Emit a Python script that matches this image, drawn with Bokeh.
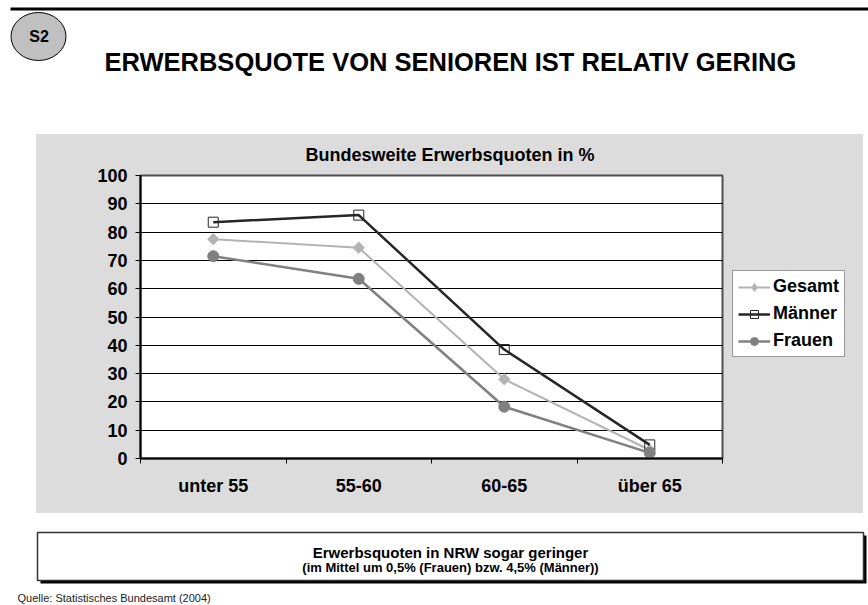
import math
from bokeh.plotting import figure
from bokeh.models import Range1d, FixedTicker, CustomJSTickFormatter, Legend, LegendItem, Spacer
from bokeh.layouts import column, row
from bokeh.core.properties import value
from bokeh.embed import file_html
from bokeh.resources import INLINE

# ---------------- data ----------------
categories = ["unter 55", "55-60", "60-65", "über 65"]
gesamt = [77.5, 74.5, 28.0, 3.0]
maenner = [83.5, 86.0, 38.5, 4.8]
frauen = [71.5, 63.5, 18.3, 2.0]
y_ticks = list(range(0, 101, 10))
series_names = ["Gesamt", "Männer", "Frauen"]

main_title = "ERWERBSQUOTE VON SENIOREN IST RELATIV GERING"
badge = "S2"
chart_title = "Bundesweite Erwerbsquoten in %"
note_1 = "Erwerbsquoten in NRW sogar geringer"
note_2 = "(im Mittel um 0,5% (Frauen) bzw. 4,5% (Männer))"
source = "Quelle: Statistisches Bundesamt (2004)"

FONT = "Liberation Sans"
GRAY_BG = "#dcdcdc"
W = 868

# series styles
STYLES = {
    "Gesamt": dict(line=dict(line_color="#b3b3b3", line_width=2),
                   marker=dict(marker="square", angle=math.pi / 4, size=8,
                               fill_color="#b3b3b3", line_color="#b3b3b3")),
    "Männer": dict(line=dict(line_color="#262626", line_width=2.5),
                   marker=dict(marker="square", size=10, fill_alpha=0,
                               line_color="#262626", line_width=1)),
    "Frauen": dict(line=dict(line_color="#808080", line_width=2.5),
                   marker=dict(marker="circle", size=11, fill_color="#808080",
                               line_color="#808080")),
}
# legend swatches (legend ignores marker angle, so use a diamond there)
LEGEND_MARKER = {"Gesamt": dict(marker="diamond", size=12, angle=0)}


def draw_series(fig, x, y, name, legend_only=False):
    st = STYLES[name]
    mk = dict(st["marker"])
    if legend_only:
        mk.update(LEGEND_MARKER.get(name, {}))
    lr = fig.line(x, y, **st["line"])
    sr = fig.scatter(x, y, **mk)
    return lr, sr


def blank_fig(width, height, bg="white"):
    f = figure(width=width, height=height, x_range=Range1d(0, width),
               y_range=Range1d(height, 0),
               output_backend="svg", toolbar_location=None, min_border=0,
               x_axis_location=None, y_axis_location=None, outline_line_color=None,
               background_fill_color=bg, border_fill_color=bg)
    f.grid.visible = False
    return f


def txt(fig, x, y, s, size, style="bold", align="center", color="black"):
    fig.text(x=[x], y=[y], text=[s], text_font=value(FONT), text_font_style=style,
             text_font_size=size, text_align=align, text_baseline="alphabetic",
             text_color=color)


# ---------------- header (page coordinates) ----------------
header = blank_fig(W, 134)
header.segment(x0=[10], y0=[8.5], x1=[W], y1=[8.5], line_color="black", line_width=3)
header.ellipse(x=[38], y=[36], width=55, height=48, fill_color="#c0c0c0",
               line_color="black", line_width=1)
txt(header, 38.5, 36, badge, "16px")
txt(header, 104, 61, main_title, "25.5px", align="left")

# ---------------- chart title strip (gray) ----------------
strip = blank_fig(827, 33, bg=GRAY_BG)
txt(strip, 413.5, 20, chart_title, "18px")

# ---------------- chart ----------------
xs = [i + 0.5 for i in range(len(categories))]

chart = figure(width=688, height=346, x_range=Range1d(0, len(categories)), y_range=Range1d(0, 100),
               output_backend="svg", toolbar_location=None,
               min_border_left=104, min_border_right=2, min_border_top=8, min_border_bottom=55,
               border_fill_color=GRAY_BG, background_fill_color="white",
               outline_line_color="#4d4d4d", outline_line_width=2)

xa = chart.xaxis[0]
xa.ticker = FixedTicker(ticks=xs, minor_ticks=list(range(len(categories) + 1)))
xa.formatter = CustomJSTickFormatter(args=dict(cats=categories),
                                     code="const i = Math.floor(tick); return (i >= 0 && i < cats.length) ? cats[i] : '';")
xa.major_tick_line_color = None
xa.major_tick_out = 5
xa.major_tick_in = 0
xa.minor_tick_line_color = "black"
xa.minor_tick_out = 5
xa.minor_tick_in = 0
xa.axis_line_color = "black"
xa.axis_line_width = 2
xa.major_label_text_font = FONT
xa.major_label_text_font_size = "18px"
xa.major_label_text_font_style = "bold"
xa.major_label_text_color = "black"
xa.major_label_standoff = 12

ya = chart.yaxis[0]
ya.ticker = FixedTicker(ticks=y_ticks)
ya.major_tick_out = 5
ya.major_tick_in = 0
ya.major_tick_line_color = "black"
ya.minor_tick_line_color = None
ya.axis_line_color = "black"
ya.axis_line_width = 2
ya.major_label_text_font = FONT
ya.major_label_text_font_size = "18px"
ya.major_label_text_font_style = "bold"
ya.major_label_text_color = "black"
ya.major_label_standoff = 8

chart.xgrid.visible = False
chart.ygrid.ticker = FixedTicker(ticks=y_ticks)
chart.ygrid.grid_line_color = "black"
chart.ygrid.grid_line_width = 1

draw_series(chart, xs, gesamt, series_names[0])
draw_series(chart, xs, maenner, series_names[1])
draw_series(chart, xs, frauen, series_names[2])

# ---------------- legend panel (gray, right of plot) ----------------
legfig = figure(width=139, height=346, x_range=Range1d(0, 1), y_range=Range1d(0, 1),
                output_backend="svg", toolbar_location=None, min_border=0,
                x_axis_location=None, y_axis_location=None, outline_line_color=None,
                background_fill_color=GRAY_BG, border_fill_color=GRAY_BG)
legfig.grid.visible = False
items = []
for name in series_names:
    # legend-only renderers: a single NaN point so nothing is drawn in the panel
    lr, sr = draw_series(legfig, [float("nan")], [float("nan")], name, legend_only=True)
    items.append(LegendItem(label=name, renderers=[lr, sr]))
legend = Legend(items=items, location=(8, 101), orientation="vertical",
                background_fill_color="white", background_fill_alpha=1,
                border_line_color="#333333", border_line_width=1,
                label_text_font=FONT, label_text_font_size="18px", label_text_font_style="bold",
                label_text_color="black", glyph_width=32, glyph_height=20, label_height=20,
                label_width=66, label_standoff=3, padding=5, spacing=6, margin=0)
legfig.add_layout(legend)

# ---------------- footer (page y - 513) ----------------
footer = blank_fig(W, 92)
footer.quad(left=[40], right=[866], top=[22], bottom=[70], fill_color="black", line_color=None)
footer.quad(left=[37], right=[863], top=[19], bottom=[67], fill_color="white",
            line_color="#333333", line_width=1.5)
txt(footer, 450, 38.5, note_1, "15px")
txt(footer, 450, 53.5, note_2, "13px")
txt(footer, 17, 84, source, "11px", style="normal", align="left", color="#222222")

gray_css = {"background-color": GRAY_BG}
layout = column(header,
                row(Spacer(width=36, height=379),
                    column(strip, row(chart, legfig, styles=gray_css), styles=gray_css)),
                footer)

open("out.html", "w").write(file_html(layout, INLINE))
